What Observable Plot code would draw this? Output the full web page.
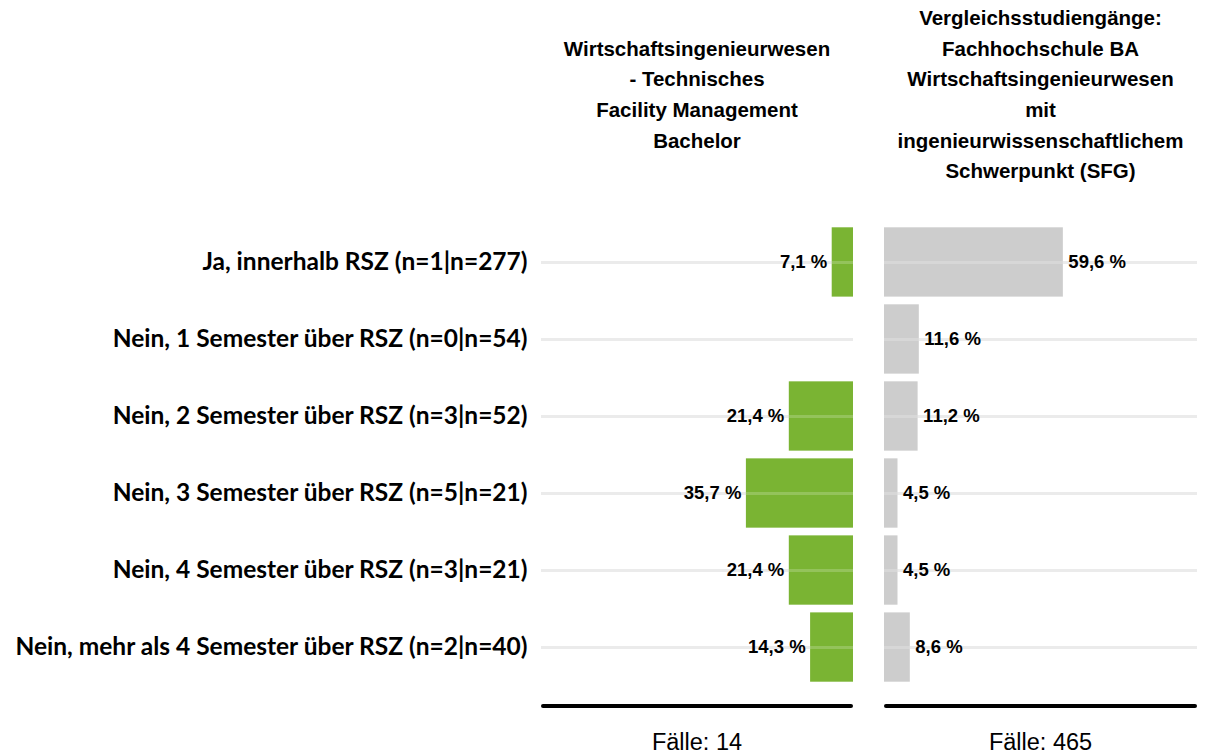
<!DOCTYPE html>
<html>
<head>
<meta charset="utf-8">
<script src="https://cdn.jsdelivr.net/npm/d3@7"></script>
<script src="https://cdn.jsdelivr.net/npm/@observablehq/plot@0.6"></script>
<style>
  html, body { margin: 0; padding: 0; background: #fff; }
  #chart { position: relative; width: 1205px; height: 755px; overflow: hidden; }
  #chart > svg { position: absolute; top: 0; }
  .head { position: absolute; text-align: center; font-family: "Liberation Sans", Arial, sans-serif;
          font-weight: bold; font-size: 20.5px; line-height: 30.6px; color: #000; white-space: nowrap; }
  .cases { position: absolute; text-align: center; font-family: "Liberation Sans", Arial, sans-serif;
           font-size: 23.5px; line-height: 30px; color: #000; }
  .base { position: absolute; height: 4px; background: #000; border-radius: 2px; }
</style>
</head>
<body>
<div id="chart"></div>
<script>
const categories = [
  "Ja, innerhalb RSZ (n=1|n=277)",
  "Nein, 1 Semester über RSZ (n=0|n=54)",
  "Nein, 2 Semester über RSZ (n=3|n=52)",
  "Nein, 3 Semester über RSZ (n=5|n=21)",
  "Nein, 4 Semester über RSZ (n=3|n=21)",
  "Nein, mehr als 4 Semester über RSZ (n=2|n=40)"
];
const leftValues = [7.1, 0, 21.4, 35.7, 21.4, 14.3];
const rightValues = [59.6, 11.6, 11.2, 4.5, 4.5, 8.6];
const panelTitles = [
  ["Wirtschaftsingenieurwesen", "- Technisches", "Facility Management", "Bachelor"],
  ["Vergleichsstudiengänge:", "Fachhochschule BA", "Wirtschaftsingenieurwesen", "mit", "ingenieurwissenschaftlichem", "Schwerpunkt (SFG)"]
];
const caseCounts = [14, 465];

const fmt = v => v.toFixed(1).replace(".", ",") + " %";
const leftData = categories.map((c, i) => ({cat: c, v: leftValues[i]}));
const rightData = categories.map((c, i) => ({cat: c, v: rightValues[i]}));

const H = 755, MT = 219.6, MB = 65.6;
const yOpts = {domain: categories, padding: 0.1, round: false, axis: null};
const baseStyle = {fontFamily: "'Liberation Sans', Arial, sans-serif", background: "transparent", overflow: "visible"};

const left = Plot.plot({
  width: 860, height: H,
  marginLeft: 541, marginRight: 7, marginTop: MT, marginBottom: MB,
  style: baseStyle,
  x: {domain: [0, 104], reverse: true, axis: null},
  y: yOpts,
  marks: [
    Plot.ruleY(categories, {stroke: "#e6e6e6", strokeWidth: 3}),
    Plot.barX(leftData.filter(d => d.v > 0), {x: "v", y: "cat", fill: "#7ab433"}),
    Plot.ruleY(categories, {stroke: "#ffffff", strokeOpacity: 0.2, strokeWidth: 3}),
    Plot.text(leftData.filter(d => d.v > 0), {x: "v", y: "cat", text: d => fmt(d.v),
      textAnchor: "end", dx: -5, fontSize: 18.5, fontWeight: "bold", fill: "#000"}),
    Plot.axisY({tickSize: 0, tickPadding: 14, fontSize: 24.5, fontWeight: "bold", label: null,
      fontFamily: "Lato, 'Open Sans', sans-serif", fill: "#000"})
  ]
});

const right = Plot.plot({
  width: 328, height: H,
  marginLeft: 7, marginRight: 8, marginTop: MT, marginBottom: MB,
  style: baseStyle,
  x: {domain: [0, 104.3], axis: null},
  y: yOpts,
  marks: [
    Plot.ruleY(categories, {stroke: "#e6e6e6", strokeWidth: 3}),
    Plot.barX(rightData, {x: "v", y: "cat", fill: "#cdcdcd"}),
    Plot.ruleY(categories, {stroke: "#ffffff", strokeOpacity: 0.2, strokeWidth: 3}),
    Plot.text(rightData, {x: "v", y: "cat", text: d => fmt(d.v),
      textAnchor: "start", dx: 5, fontSize: 18.5, fontWeight: "bold", fill: "#000"})
  ]
});
right.style.left = "877px";
left.style.left = "0px";

const chart = document.getElementById("chart");
chart.appendChild(left);
chart.appendChild(right);

const panels = [{x0: 541, x1: 853}, {x0: 884, x1: 1197}];
panels.forEach((p, i) => {
  const lh = 30.6;
  const h = document.createElement("div");
  h.className = "head";
  h.style.left = (p.x0 - 40) + "px";
  h.style.width = (p.x1 - p.x0 + 80) + "px";
  h.style.top = (95 - panelTitles[i].length * lh / 2) + "px";
  h.innerHTML = panelTitles[i].join("<br>");
  chart.appendChild(h);

  const b = document.createElement("div");
  b.className = "base";
  b.style.left = p.x0 + "px";
  b.style.width = (p.x1 - p.x0) + "px";
  b.style.top = "704px";
  chart.appendChild(b);

  const c = document.createElement("div");
  c.className = "cases";
  c.style.left = p.x0 + "px";
  c.style.width = (p.x1 - p.x0) + "px";
  c.style.top = "727px";
  c.textContent = "Fälle: " + caseCounts[i];
  chart.appendChild(c);
});
</script>
</body>
</html>
